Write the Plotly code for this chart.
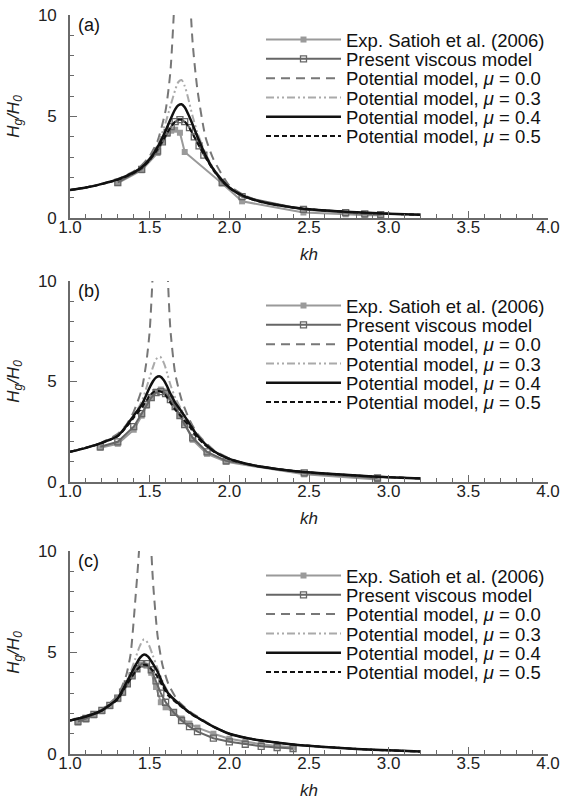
import plotly.graph_objects as go

# ---------------- Panel (a) ----------------
KH_POT_A = [1.0, 1.1, 1.2, 1.3, 1.4, 1.45, 1.5, 1.55, 1.6, 1.63, 1.66, 1.68, 1.70, 1.72, 1.74, 1.77, 1.8, 1.85, 1.9, 2.0, 2.1, 2.2, 2.4, 2.6, 2.8, 3.0, 3.2]
MU00_A = [1.38, 1.5, 1.69, 1.92, 2.3, 2.6, 3.05, 3.8, 5.3, 7.2, 11.5, 18, 40, 20, 13, 8.6, 6.3, 4.0, 2.9, 1.6, 1.1, 0.82, 0.53, 0.38, 0.28, 0.21, 0.16]
MU03_A = [1.38, 1.5, 1.68, 1.9, 2.26, 2.52, 2.95, 3.6, 4.7, 5.5, 6.3, 6.7, 6.8, 6.5, 5.95, 5.0, 4.2, 3.2, 2.45, 1.52, 1.06, 0.8, 0.52, 0.37, 0.28, 0.21, 0.16]
MU04_A = [1.38, 1.5, 1.68, 1.9, 2.25, 2.5, 2.9, 3.5, 4.3, 4.85, 5.35, 5.55, 5.6, 5.45, 5.15, 4.6, 4.0, 3.1, 2.4, 1.5, 1.05, 0.8, 0.52, 0.37, 0.28, 0.21, 0.16]
MU05_A = [1.38, 1.5, 1.67, 1.88, 2.22, 2.47, 2.85, 3.4, 4.05, 4.45, 4.75, 4.85, 4.85, 4.75, 4.55, 4.15, 3.7, 3.0, 2.35, 1.48, 1.04, 0.79, 0.52, 0.37, 0.28, 0.21, 0.16]
KH_EXP_A = [1.30, 1.45, 1.55, 1.58, 1.61, 1.635, 1.66, 1.69, 1.72, 1.955, 2.08, 2.465, 2.73, 2.85, 2.95]
EXP_A = [1.72, 2.35, 3.2, 3.8, 4.15, 4.3, 4.35, 4.2, 3.25, 1.7, 0.82, 0.27, 0.18, 0.13, 0.13]
KH_VIS_A = [1.30, 1.45, 1.55, 1.58, 1.61, 1.635, 1.66, 1.69, 1.72, 1.75, 1.78, 1.81, 1.84, 1.955, 2.08, 2.465, 2.73, 2.85, 2.95]
VIS_A = [1.75, 2.4, 3.3, 3.75, 4.2, 4.5, 4.75, 4.85, 4.75, 4.45, 4.0, 3.55, 3.1, 1.75, 1.05, 0.42, 0.26, 0.2, 0.17]

# ---------------- Panel (b) ----------------
KH_POT_B = [1.0, 1.1, 1.2, 1.3, 1.35, 1.4, 1.45, 1.48, 1.5, 1.52, 1.54, 1.565, 1.59, 1.61, 1.63, 1.66, 1.7, 1.75, 1.8, 1.9, 2.0, 2.1, 2.2, 2.4, 2.6, 2.8, 3.0, 3.2]
MU00_B = [1.5, 1.7, 1.97, 2.4, 2.8, 3.5, 4.6, 6.0, 7.5, 10.5, 16, 40, 17, 11, 7.6, 5.4, 4.1, 3.1, 2.4, 1.6, 1.18, 0.92, 0.76, 0.55, 0.42, 0.32, 0.24, 0.18]
MU03_B = [1.5, 1.7, 1.95, 2.3, 2.75, 3.3, 4.0, 4.7, 5.2, 5.7, 6.1, 6.23, 5.9, 5.4, 4.85, 4.2, 3.6, 2.95, 2.35, 1.56, 1.15, 0.92, 0.76, 0.55, 0.42, 0.32, 0.24, 0.18]
MU04_B = [1.5, 1.7, 1.95, 2.3, 2.75, 3.3, 3.85, 4.35, 4.7, 5.0, 5.2, 5.25, 5.05, 4.75, 4.4, 3.95, 3.5, 2.9, 2.3, 1.55, 1.15, 0.92, 0.76, 0.55, 0.42, 0.32, 0.24, 0.18]
MU05_B = [1.5, 1.7, 1.94, 2.28, 2.7, 3.2, 3.7, 4.05, 4.3, 4.45, 4.52, 4.52, 4.4, 4.2, 3.95, 3.6, 3.25, 2.75, 2.2, 1.52, 1.14, 0.92, 0.76, 0.55, 0.42, 0.32, 0.24, 0.18]
KH_EXP_B = [1.19, 1.30, 1.40, 1.45, 1.48, 1.51, 1.54, 1.57, 1.60, 1.63, 1.66, 1.69, 1.72, 1.77, 1.86, 1.98, 2.47, 2.93]
EXP_B = [1.7, 1.9, 2.6, 3.3, 3.8, 4.2, 4.5, 4.6, 4.5, 4.2, 3.8, 3.3, 2.9, 2.1, 1.4, 1.0, 0.38, 0.12]
KH_VIS_B = [1.19, 1.30, 1.40, 1.45, 1.48, 1.51, 1.54, 1.57, 1.60, 1.63, 1.66, 1.69, 1.72, 1.77, 1.86, 1.98, 2.47, 2.93]
VIS_B = [1.75, 2.0, 2.75, 3.4, 3.85, 4.2, 4.45, 4.5, 4.4, 4.1, 3.75, 3.3, 2.85, 2.2, 1.5, 1.05, 0.45, 0.2]

# ---------------- Panel (c) ----------------
KH_POT_C = [1.0, 1.1, 1.2, 1.25, 1.3, 1.35, 1.38, 1.41, 1.44, 1.465, 1.49, 1.52, 1.55, 1.58, 1.62, 1.68, 1.75, 1.8, 1.9, 2.0, 2.1, 2.2, 2.4, 2.6, 2.8, 3.0, 3.2]
MU00_C = [1.65, 1.87, 2.2, 2.5, 2.9, 3.8, 4.9, 7.6, 11, 40, 14, 8.6, 5.8, 4.4, 3.4, 2.6, 2.1, 1.85, 1.36, 1.0, 0.8, 0.66, 0.47, 0.35, 0.25, 0.18, 0.12]
MU03_C = [1.65, 1.86, 2.17, 2.45, 2.8, 3.5, 4.05, 4.7, 5.35, 5.65, 5.45, 4.85, 4.2, 3.6, 3.0, 2.5, 2.05, 1.8, 1.35, 1.0, 0.8, 0.66, 0.47, 0.35, 0.25, 0.18, 0.12]
MU04_C = [1.65, 1.85, 2.15, 2.42, 2.75, 3.45, 3.9, 4.35, 4.75, 4.9, 4.8, 4.45, 4.05, 3.5, 2.95, 2.5, 2.05, 1.8, 1.35, 1.0, 0.8, 0.66, 0.47, 0.35, 0.25, 0.18, 0.12]
MU05_C = [1.65, 1.85, 2.14, 2.4, 2.7, 3.35, 3.7, 4.05, 4.3, 4.4, 4.35, 4.1, 3.8, 3.35, 2.85, 2.45, 2.02, 1.78, 1.34, 1.0, 0.8, 0.66, 0.47, 0.35, 0.25, 0.18, 0.12]
KH_EXP_C = [1.05, 1.1, 1.15, 1.2, 1.25, 1.3, 1.33, 1.36, 1.39, 1.42, 1.45, 1.48, 1.51, 1.54, 1.57, 1.6, 1.65, 1.7, 1.75, 1.8, 1.9, 2.0, 2.1, 2.2, 2.3, 2.4]
EXP_C = [1.55, 1.7, 1.9, 2.1, 2.35, 2.7, 3.0, 3.45, 3.85, 4.2, 4.4, 4.35, 4.0, 3.3, 2.55, 2.3, 2.05, 1.75, 1.5, 1.3, 1.0, 0.75, 0.6, 0.48, 0.4, 0.33]
KH_VIS_C = [1.05, 1.1, 1.15, 1.2, 1.25, 1.3, 1.33, 1.36, 1.39, 1.42, 1.45, 1.48, 1.51, 1.54, 1.57, 1.6, 1.65, 1.7, 1.75, 1.8, 1.9, 2.0, 2.1, 2.2, 2.3, 2.4]
VIS_C = [1.6, 1.75, 1.95, 2.15, 2.4, 2.75, 3.05, 3.45, 3.85, 4.2, 4.45, 4.45, 4.15, 3.6, 3.0, 2.55, 2.05, 1.65, 1.35, 1.1, 0.78, 0.6, 0.48, 0.38, 0.32, 0.27]

PANEL_LABELS = ["(a)", "(b)", "(c)"]
NAMES = ["Exp. Satioh et al. (2006)", "Present viscous model",
         "Potential model, <i>μ</i> = 0.0", "Potential model, <i>μ</i> = 0.3",
         "Potential model, <i>μ</i> = 0.4", "Potential model, <i>μ</i> = 0.5"]

panels = [
    (KH_EXP_A, EXP_A, KH_VIS_A, VIS_A, KH_POT_A, MU00_A, MU03_A, MU04_A, MU05_A),
    (KH_EXP_B, EXP_B, KH_VIS_B, VIS_B, KH_POT_B, MU00_B, MU03_B, MU04_B, MU05_B),
    (KH_EXP_C, EXP_C, KH_VIS_C, VIS_C, KH_POT_C, MU00_C, MU03_C, MU04_C, MU05_C),
]

W, H = 561, 803
X0, X1 = 70, 548
TOPS = [15, 281, 551]
BOTS = [218, 482, 754]
FONT = "Liberation Sans, Arial, sans-serif"
ROW0, ROWSTEP = 25, 19.3

fig = go.Figure()
for i, (kx_e, e, kx_v, v, kx_p, m0, m3, m4, m5) in enumerate(panels):
    sfx = "" if i == 0 else str(i + 1)
    xa, ya = "x" + sfx, "y" + sfx
    specs = [
        dict(x=kx_e, y=e, mode="lines+markers", line=dict(color="#9a9a9a", width=2),
             marker=dict(symbol="square", size=6, color="#9a9a9a")),
        dict(x=kx_v, y=v, mode="lines+markers", line=dict(color="#666666", width=2),
             marker=dict(symbol="square-open", size=6, color="#666666", line=dict(width=1.3))),
        dict(x=kx_p, y=m0, mode="lines",
             line=dict(color="#777777", width=2, dash="9px,6px", shape="spline", smoothing=0.6)),
        dict(x=kx_p, y=m3, mode="lines",
             line=dict(color="#aaaaaa", width=2, dash="8px,3px,2px,3px,2px,3px", shape="spline", smoothing=0.8)),
        dict(x=kx_p, y=m4, mode="lines",
             line=dict(color="#111111", width=2.5, shape="spline", smoothing=0.8)),
        dict(x=kx_p, y=m5, mode="lines",
             line=dict(color="#111111", width=2, dash="5px,3px", shape="spline", smoothing=0.8)),
    ]
    for j, sp in enumerate(specs):
        idx = i * 6 + j + 1
        lg = "legend" if idx == 1 else "legend%d" % idx
        fig.add_trace(go.Scatter(name=NAMES[j], xaxis=xa, yaxis=ya, legend=lg, **sp))
        fig.layout[lg] = dict(x=261 / W, y=1 - (TOPS[i] + ROW0 + j * ROWSTEP) / H,
                              xanchor="left", yanchor="middle",
                              bgcolor="rgba(0,0,0,0)", itemwidth=75,
                              font=dict(family=FONT, size=18.5, color="#111"))

    dom_y = [1 - BOTS[i] / H, 1 - TOPS[i] / H]
    axis_common = dict(showline=True, linecolor="#6a6a6a", linewidth=1.6, showgrid=False, zeroline=False,
                       ticks="inside", ticklen=7, tickwidth=1.4, tickcolor="#6a6a6a", automargin=False,
                       tickfont=dict(family=FONT, size=17, color="#222"))
    fig.layout["xaxis" + sfx] = dict(
        domain=[X0 / W, X1 / W], anchor=ya, range=[1.0, 4.0], tick0=1.0, dtick=0.5, tickformat=".1f",
        minor=dict(dtick=0.1, ticks="inside", ticklen=4, tickwidth=1, tickcolor="#6a6a6a"),
        ticklabelstandoff=-7,
        title=dict(text="<i>kh</i>", font=dict(family=FONT, size=17, color="#222"), standoff=12),
        **axis_common)
    fig.layout["yaxis" + sfx] = dict(
        domain=dom_y, anchor=xa, range=[0, 10], tick0=0, dtick=5,
        minor=dict(dtick=1, ticks="inside", ticklen=4, tickwidth=1, tickcolor="#6a6a6a"),
        ticklabelstandoff=8,
        title=dict(text="<i>H<sub>g</sub>/H<sub>0</sub></i>", font=dict(family=FONT, size=17, color="#222"), standoff=14),
        **axis_common)
    fig.add_annotation(text=PANEL_LABELS[i], xref="paper", yref="paper",
                       x=76 / W, y=1 - (TOPS[i] + 10) / H, xanchor="left", yanchor="middle",
                       showarrow=False, font=dict(family=FONT, size=18, color="#111"))

fig.update_layout(width=W, height=H, margin=dict(l=0, r=0, t=0, b=0),
                  paper_bgcolor="white", plot_bgcolor="white", showlegend=True)
fig.write_html("out.html", config={"displayModeBar": False},
               post_script="document.body.style.margin='0';document.body.style.overflow='hidden';")
